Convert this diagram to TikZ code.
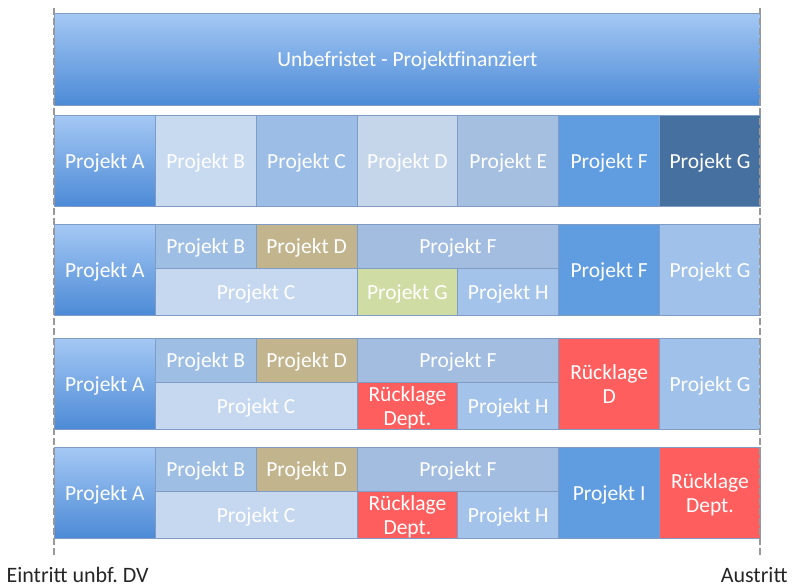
\documentclass[tikz,border=0pt]{standalone}
\usepackage{fontspec}
\setmainfont{Carlito}
\usepackage{xcolor}

\definecolor{edge}{HTML}{7E9CC4}
\definecolor{gradtop}{HTML}{A4C8F4}
\definecolor{gradbot}{HTML}{4C8AD6}
\definecolor{pB1}{HTML}{C8DAF0}
\definecolor{pC1}{HTML}{9CBDE5}
\definecolor{pD1}{HTML}{C5D6EB}
\definecolor{pE1}{HTML}{A5BFE0}
\definecolor{pF}{HTML}{5F9CE0}
\definecolor{pG1}{HTML}{46709F}
\definecolor{pB}{HTML}{9EBEE4}
\definecolor{pD}{HTML}{C2B58E}
\definecolor{pFw}{HTML}{A3BDE0}
\definecolor{pC}{HTML}{C6D8EF}
\definecolor{pG}{HTML}{CFDCA3}
\definecolor{pH}{HTML}{A4C3EA}
\definecolor{pGr}{HTML}{A0C1E9}
\definecolor{rl}{HTML}{FF5E5E}

\begin{document}
\begin{tikzpicture}[x=1pt,y=-1pt,
  box/.style={draw=edge,line width=0.8pt,anchor=north west,inner sep=0pt,
    text=white,align=center,text depth=0pt,font=\fontsize{21.5}{24}\selectfont},
  grad/.style={box,top color=gradtop,bottom color=gradbot},
  lbl/.style={font=\fontsize{22}{24}\selectfont,text=black!85},
  timeline/.style={draw=gray!80,line width=2pt,dash pattern=on 7pt off 3pt}
]
\useasboundingbox (0,0) rectangle (793,587);
\def\xo{54}
\def\cw{100.86}
\def\rh{91}
\def\uh{44}
\def\lh{47}

% Top bar
\node[grad,minimum width={7*\cw},minimum height=92] (unbef) at (\xo,13)
  {Unbefristet - Projektfinanziert};

% Row 1: one project after the other
\node[grad,minimum width=\cw,minimum height=\rh] (r1A) at (\xo,115) {Projekt A};
\foreach \i/\p/\c in {1/B/pB1,2/C/pC1,3/D/pD1,4/E/pE1,5/F/pF,6/G/pG1}{
  \node[box,fill=\c,minimum width=\cw,minimum height=\rh] (r1\p) at ({\xo+\i*\cw},115) {Projekt \p};
}

% Rows 2-4: parallel projects (common part)
\foreach \r/\y in {2/224,3/338,4/447}{
  \node[grad,minimum width=\cw,minimum height=\rh] (r\r A) at (\xo,\y) {Projekt A};
  \node[box,fill=pB,minimum width=\cw,minimum height=\uh] (r\r B) at ({\xo+\cw},\y) {Projekt B};
  \node[box,fill=pD,minimum width=\cw,minimum height=\uh] (r\r D) at ({\xo+2*\cw},\y) {Projekt D};
  \node[box,fill=pFw,minimum width={2*\cw},minimum height=\uh] (r\r F) at ({\xo+3*\cw},\y) {Projekt F};
  \node[box,fill=pC,minimum width={2*\cw},minimum height=\lh] (r\r C) at ({\xo+\cw},{\y+\uh}) {Projekt C};
  \node[box,fill=pH,minimum width=\cw,minimum height=\lh] (r\r H) at ({\xo+4*\cw},{\y+\uh}) {Projekt H};
}

% Row 2
\node[box,fill=pG,minimum width=\cw,minimum height=\lh] (r2G) at ({\xo+3*\cw},{224+\uh}) {Projekt G};
\node[box,fill=pF,minimum width=\cw,minimum height=\rh] (r2Ft) at ({\xo+5*\cw},224) {Projekt F};
\node[box,fill=pGr,minimum width=\cw,minimum height=\rh] (r2Gt) at ({\xo+6*\cw},224) {Projekt G};

% Row 3
\node[box,fill=rl,minimum width=\cw,minimum height=\lh] (r3R) at ({\xo+3*\cw},{338+\uh}) {Rücklage\\Dept.};
\node[box,fill=rl,minimum width=\cw,minimum height=\rh] (r3RD) at ({\xo+5*\cw},338) {Rücklage\\D};
\node[box,fill=pGr,minimum width=\cw,minimum height=\rh] (r3Gt) at ({\xo+6*\cw},338) {Projekt G};

% Row 4
\node[box,fill=rl,minimum width=\cw,minimum height=\lh] (r4R) at ({\xo+3*\cw},{447+\uh}) {Rücklage\\Dept.};
\node[box,fill=pF,minimum width=\cw,minimum height=\rh] (r4I) at ({\xo+5*\cw},447) {Projekt I};
\node[box,fill=rl,minimum width=\cw,minimum height=\rh] (r4Rt) at ({\xo+6*\cw},447) {Rücklage\\Dept.};

% Time line: entry and exit
\coordinate (einTop) at (\xo,8);
\coordinate (einBot) at (\xo,556);
\coordinate (ausTop) at ({\xo+7*\cw},8);
\coordinate (ausBot) at ({\xo+7*\cw},556);
\draw[timeline] (einTop) -- (einBot);
\draw[timeline] (ausTop) -- (ausBot);

\node[lbl,anchor=west] (eintritt) at (3,575) {Eintritt unbf.\ DV};
\node[lbl,anchor=east] (austritt) at (791,575) {Austritt};
\end{tikzpicture}
\end{document}
